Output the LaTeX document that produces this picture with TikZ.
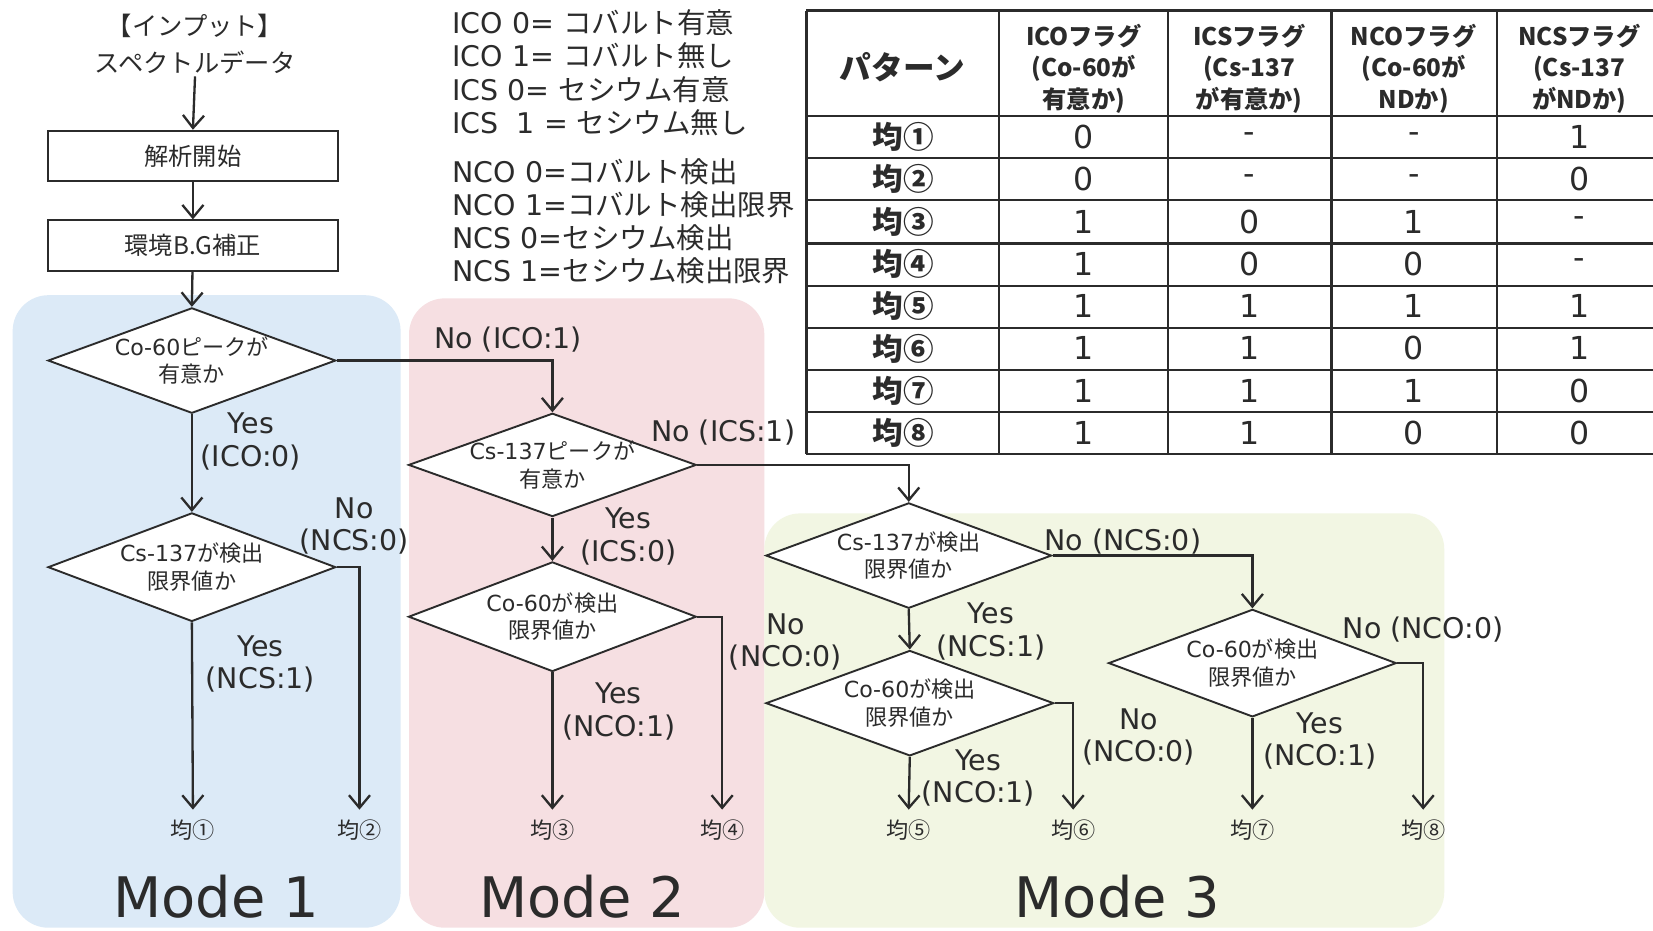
\documentclass[tikz,border=0pt]{standalone}
\usepackage{fontspec}
\setmainfont{DejaVu Sans}
\newfontfamily\jp{Noto Sans CJK JP}
\usetikzlibrary{shapes.geometric,arrows.meta}
\newcommand\J[1]{{\jp #1}}
\definecolor{mone}{HTML}{DCEAF7}
\definecolor{mtwo}{HTML}{F6DFE2}
\definecolor{mthree}{HTML}{F2F6E3}
\definecolor{ink}{HTML}{2B2B2B}
\tikzset{
  flow/.style={line width=2.2pt, draw=ink},
  arr/.style={flow, -{Straight Barb[length=12pt,width=20pt]}},
  boxnode/.style={draw=ink, line width=1.8pt, fill=white, minimum width=275pt, minimum height=48pt,
     font=\jp\fontsize{23}{26}\selectfont, text=ink},
  dia/.style={diamond, draw=ink, line width=1.8pt, fill=white, minimum width=273pt, minimum height=100pt,
     inner sep=0pt, aspect=2.7},
  dtext/.style={font=\fontsize{21}{26}\selectfont, align=center, text=ink, inner sep=0pt},
  lbl/.style={font=\fontsize{27}{31}\selectfont, align=center, text=ink, inner sep=0pt},
  term/.style={font=\jp\fontsize{21}{24}\selectfont, text=ink, inner sep=0pt},
  modelbl/.style={font=\fontsize{53}{60}\selectfont, text=ink, inner sep=0pt},
  modebg/.style={rounded corners=34pt, draw=none},
  thead/.style={font=\jp\bfseries\fontsize{23}{30}\selectfont, align=center, text=ink, inner sep=0pt},
  tlab/.style={font=\jp\bfseries\fontsize{29}{30}\selectfont, text=ink, inner sep=0pt},
  tval/.style={font=\fontsize{30}{30}\selectfont, text=ink, inner sep=0pt},
  legend/.style={font=\fontsize{27}{31.5}\selectfont, align=left, text=ink, inner sep=0pt, anchor=west},
}
\begin{document}
\begin{tikzpicture}[x=1pt,y=-1pt]
\useasboundingbox (0,0) rectangle (1568,883);
\fill[white] (0,0) rectangle (1568,883);
% mode backgrounds
\fill[modebg, mone] (12,280) rectangle (380,880);
\fill[modebg, mtwo] (388,283) rectangle (725,880);
\fill[modebg, mthree] (725,487) rectangle (1370,880);
\node[modelbl] (m1) at (205,851) {Mode 1};
\node[modelbl] (m2) at (552,851) {Mode 2};
\node[modelbl] (m3) at (1060,851) {Mode 3};

% legend
\node[legend] (leg1) at (429,69) {ICO 0= \J{コバルト有意}\\ICO 1= \J{コバルト無し}\\ICS 0= \J{セシウム有意}\\ICS \ 1 = \J{セシウム無し}};
\node[legend] (leg2) at (429,210) {NCO 0=\J{コバルト検出}\\NCO 1=\J{コバルト検出限界}\\NCS 0=\J{セシウム検出}\\NCS 1=\J{セシウム検出限界}};

% table
\begin{scope}[line width=2pt]
\draw[ink] (765,10) -- (1580,10);
\foreach \yy in {110,150,190,231,271,311,351,391,431} {\draw[ink] (765,\yy) -- (1580,\yy);}
\foreach \xx in {765,948,1108,1263,1420} {\draw[ink] (\xx,10) -- (\xx,431);}
\end{scope}
\node[thead, font=\jp\bfseries\fontsize{30}{30}\selectfont] (h0) at (856,64) {パターン};
\node[thead] (h1) at (1028,65) {ICOフラグ\\(Co-60が\\有意か)};
\node[thead] (h2) at (1185,65) {ICSフラグ\\(Cs-137\\が有意か)};
\node[thead] (h3) at (1341,65) {NCOフラグ\\(Co-60が\\NDか)};
\node[thead] (h4) at (1498,65) {NCSフラグ\\(Cs-137\\がNDか)};
\foreach \lab/\a/\b/\c/\d [count=\i] in {①/0/-/-/1, ②/0/-/-/0, ③/1/0/1/-, ④/1/0/0/-, ⑤/1/1/1/1, ⑥/1/1/0/1, ⑦/1/1/1/0, ⑧/1/1/0/0} {
  \pgfmathsetmacro\ry{130+40.1*(\i-1)}
  \node[tlab] (r\i l) at (857,\ry) {均\lab};
  \node[tval] (r\i a) at (1028,\ry) {\a};
  \node[tval] (r\i b) at (1185,\ry) {\b};
  \node[tval] (r\i c) at (1341,\ry) {\c};
  \node[tval] (r\i d) at (1498,\ry) {\d};
}

% flow start
\node[font=\jp\fontsize{24}{35}\selectfont, align=center, text=ink, inner sep=2pt] (inp) at (185,42) {【インプット】\\スペクトルデータ};
\node[boxnode] (b1) at (183,148) {解析開始};
\node[boxnode] (b2) at (183,233) {環境B.G補正};

% diamonds
\node[dia, label={[dtext]center:{Co-60\J{ピークが}\\\J{有意か}}}] (d1) at (182,342) {};
\node[dia, minimum height=103pt, label={[dtext]center:{Cs-137\J{が検出}\\\J{限界値か}}}] (d2) at (182,538) {};
\node[dia, minimum height=98pt, label={[dtext]center:{Cs-137\J{ピークが}\\\J{有意か}}}] (d3) at (524,441) {};
\node[dia, minimum height=104pt, label={[dtext]center:{Co-60\J{が検出}\\\J{限界値か}}}] (d4) at (524,585) {};
\node[dia, minimum width=271pt, label={[dtext]center:{Cs-137\J{が検出}\\\J{限界値か}}}] (d5) at (862,527) {};
\node[dia, label={[dtext]center:{Co-60\J{が検出}\\\J{限界値か}}}] (d6) at (863,667) {};
\node[dia, minimum height=102pt, label={[dtext]center:{Co-60\J{が検出}\\\J{限界値か}}}] (d7) at (1188,629) {};

% terminals
\node[term] (t1) at (183,787) {均①};
\node[term] (t2) at (341,787) {均②};
\node[term] (t3) at (524,787) {均③};
\node[term] (t4) at (685,787) {均④};
\node[term] (t5) at (862,787) {均⑤};
\node[term] (t6) at (1018,787) {均⑥};
\node[term] (t7) at (1188,787) {均⑦};
\node[term] (t8) at (1350,787) {均⑧};

% connectors
\draw[arr] (inp.south) -- (b1.north);
\draw[arr] (b1) -- (b2);
\draw[arr] (b2) -- (d1.north);
\draw[arr] (d1.south) -- (d2.north);
\draw[arr] (d1.east) -| (d3.north);
\draw[arr] (d2.south) -- ([yshift=9pt]t1.north);
\draw[arr] (d2.east) -| ([yshift=9pt]t2.north);
\draw[arr] (d3.south) -- (d4.north);
\draw[arr] (d3.east) -| (d5.north);
\draw[arr] (d4.south) -- ([yshift=9pt]t3.north);
\draw[arr] (d4.east) -| ([yshift=9pt]t4.north);
\draw[arr] (d5.south) -- (d6.north);
\draw[arr] (d5.east) -| (d7.north);
\draw[arr] (d6.south) -- ([yshift=9pt]t5.north);
\draw[arr] (d6.east) -| ([yshift=9pt]t6.north);
\draw[arr] (d7.south) -- ([yshift=9pt]t7.north);
\draw[arr] (d7.east) -| ([yshift=9pt]t8.north);

% branch labels
\node[lbl] (y1) at (238,419) {Yes\\(ICO:0)};
\node[lbl] (n1) at (482,322) {No (ICO:1)};
\node[lbl] (y2) at (247,630) {Yes\\(NCS:1)};
\node[lbl] (n2) at (336,499) {No\\(NCS:0)};
\node[lbl] (n3) at (686,410) {No (ICS:1)};
\node[lbl] (y3) at (596,509) {Yes\\(ICS:0)};
\node[lbl] (y4) at (587,675) {Yes\\(NCO:1)};
\node[lbl] (n4) at (745,609) {No\\(NCO:0)};
\node[lbl] (n5) at (1065,514) {No (NCS:0)};
\node[lbl] (y5) at (940,599) {Yes\\(NCS:1)};
\node[lbl] (y6) at (928,738) {Yes\\(NCO:1)};
\node[lbl] (n6) at (1080,699) {No\\(NCO:0)};
\node[lbl] (y7) at (1252,703) {Yes\\(NCO:1)};
\node[lbl] (n7) at (1350,597) {No (NCO:0)};
\end{tikzpicture}
\end{document}
